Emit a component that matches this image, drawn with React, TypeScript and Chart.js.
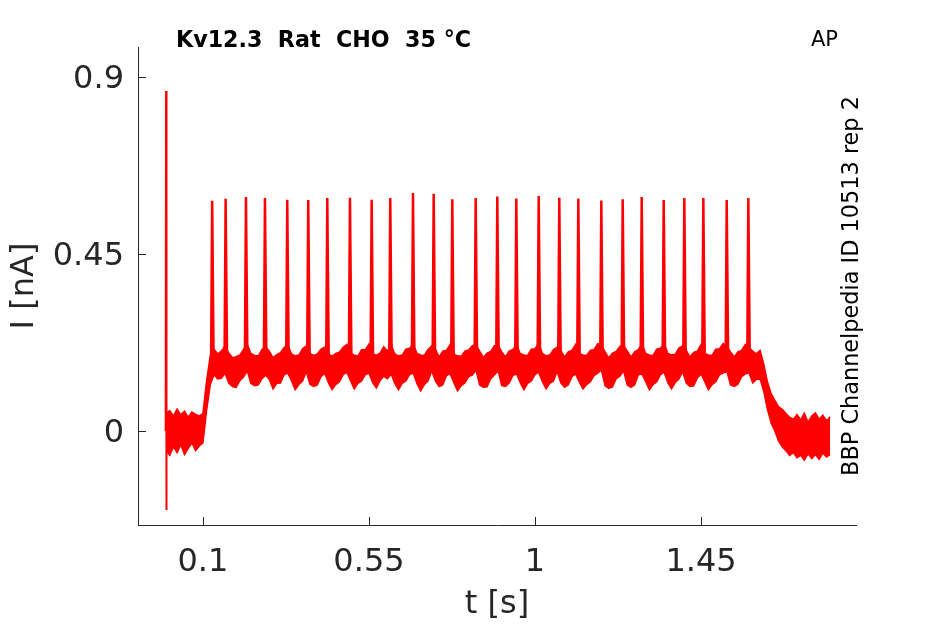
import { useEffect, useRef } from "react";
import { Chart, registerables } from "chart.js";

Chart.register(...registerables);

// ---- text ----
const TITLE = "Kv12.3  Rat  CHO  35 °C";
const CORNER_LABEL = "AP";
const SIDE_LABEL = "BBP Channelpedia ID 10513 rep 2";
const X_TITLE = "t [s]";
const Y_TITLE = "I [nA]";

// ---- axes ----
const X_TICKS = [0.1, 0.55, 1, 1.45];
const Y_TICKS = [0, 0.45, 0.9];
const X_RANGE = [-0.076, 1.87];
const Y_RANGE = [-0.239, 0.976];

// ---- trace: envelope of the overlaid sweeps, sampled every 10 ms from t = 0 ----
const SAMPLE_DT = 0.01;
const BAND_UPPER = [
  0.045, 0.052, 0.038, 0.056, 0.041, 0.050, 0.035, 0.048, 0.042, 0.038,
  0.045, 0.128, 0.192, 0.208, 0.196, 0.203, 0.216, 0.198, 0.186, 0.189,
  0.193, 0.207, 0.221, 0.197, 0.192, 0.191, 0.207, 0.214, 0.203, 0.186,
  0.194, 0.199, 0.212, 0.219, 0.196, 0.191, 0.193, 0.209, 0.216, 0.197,
  0.192, 0.196, 0.208, 0.213, 0.195, 0.190, 0.197, 0.200, 0.213, 0.220,
  0.198, 0.193, 0.190, 0.207, 0.206, 0.221, 0.195, 0.193, 0.198, 0.214,
  0.203, 0.219, 0.196, 0.191, 0.193, 0.208, 0.210, 0.222, 0.197, 0.193,
  0.192, 0.207, 0.216, 0.208, 0.188, 0.203, 0.205, 0.220, 0.195, 0.191,
  0.190, 0.203, 0.206, 0.217, 0.219, 0.203, 0.187, 0.198, 0.202, 0.217,
  0.218, 0.201, 0.188, 0.203, 0.207, 0.220, 0.197, 0.193, 0.192, 0.208,
  0.209, 0.223, 0.197, 0.191, 0.193, 0.207, 0.213, 0.205, 0.188, 0.201,
  0.205, 0.220, 0.197, 0.193, 0.192, 0.205, 0.207, 0.222, 0.219, 0.201,
  0.186, 0.198, 0.202, 0.215, 0.218, 0.203, 0.188, 0.201, 0.207, 0.221,
  0.197, 0.193, 0.192, 0.208, 0.210, 0.223, 0.197, 0.193, 0.195, 0.211,
  0.216, 0.205, 0.188, 0.200, 0.203, 0.220, 0.197, 0.193, 0.192, 0.208,
  0.209, 0.222, 0.215, 0.201, 0.188, 0.201, 0.205, 0.220, 0.212, 0.203,
  0.196, 0.205, 0.170, 0.125, 0.095, 0.078, 0.062, 0.055, 0.045, 0.035,
  0.030, 0.042, 0.028, 0.045, 0.022, 0.038, 0.046, 0.030, 0.040, 0.026, 0.036,
];
const BAND_LOWER = [
  -0.050, -0.062, -0.040, -0.055, -0.035, -0.060, -0.045, -0.030, -0.050, -0.038,
  -0.030, 0.052, 0.118, 0.143, 0.132, 0.134, 0.147, 0.122, 0.113, 0.111,
  0.128, 0.137, 0.153, 0.121, 0.115, 0.117, 0.133, 0.142, 0.131, 0.107,
  0.121, 0.122, 0.143, 0.147, 0.128, 0.105, 0.118, 0.127, 0.151, 0.119,
  0.113, 0.117, 0.138, 0.147, 0.123, 0.105, 0.118, 0.125, 0.143, 0.149,
  0.128, 0.107, 0.121, 0.127, 0.143, 0.147, 0.123, 0.109, 0.128, 0.139,
  0.133, 0.145, 0.121, 0.105, 0.121, 0.127, 0.143, 0.147, 0.121, 0.102,
  0.118, 0.127, 0.153, 0.127, 0.113, 0.117, 0.141, 0.145, 0.123, 0.102,
  0.115, 0.122, 0.138, 0.142, 0.155, 0.117, 0.111, 0.112, 0.133, 0.142,
  0.153, 0.115, 0.113, 0.122, 0.141, 0.145, 0.123, 0.105, 0.121, 0.127,
  0.143, 0.149, 0.125, 0.107, 0.121, 0.127, 0.151, 0.122, 0.111, 0.117,
  0.138, 0.145, 0.125, 0.107, 0.118, 0.125, 0.141, 0.147, 0.155, 0.115,
  0.108, 0.112, 0.133, 0.139, 0.153, 0.117, 0.111, 0.117, 0.143, 0.145,
  0.125, 0.105, 0.118, 0.125, 0.143, 0.149, 0.123, 0.107, 0.123, 0.132,
  0.151, 0.122, 0.113, 0.115, 0.135, 0.145, 0.125, 0.105, 0.118, 0.125,
  0.143, 0.147, 0.151, 0.117, 0.113, 0.119, 0.138, 0.145, 0.148, 0.122,
  0.131, 0.132, 0.100, 0.055, 0.020, 0.000, -0.025, -0.040, -0.050, -0.062,
  -0.055, -0.068, -0.062, -0.074, -0.058, -0.070, -0.060, -0.072, -0.056, -0.066, -0.060,
];

// ---- action potentials ----
const SPIKE_TIMES = [
  0.125, 0.1615, 0.2166, 0.2681, 0.3285, 0.3854, 0.437, 0.4985, 0.5573,
  0.6077, 0.6693, 0.7254, 0.7758, 0.8392, 0.8978, 0.9493, 1.01, 1.0658,
  1.1174, 1.1797, 1.2377, 1.2892, 1.3488, 1.4047, 1.4562, 1.5196, 1.5782,
];
const SPIKE_PEAKS = [
  0.585, 0.59, 0.595, 0.592, 0.588, 0.587, 0.592, 0.593, 0.588,
  0.592, 0.605, 0.603, 0.589, 0.592, 0.596, 0.591, 0.597, 0.593,
  0.591, 0.586, 0.589, 0.595, 0.587, 0.592, 0.592, 0.587, 0.592,
];
const SPIKE_BASE = 0.17;

// ---- stimulus onset artefact ----
const ARTIFACT_TIME = 0;
const ARTIFACT_MAX = 0.864;
const ARTIFACT_MIN = -0.201;

const RED = "#ff0000";
const AXIS_COLOR = "#262626";
const FONT = '"DejaVu Sans", "Liberation Sans", sans-serif';

const decorPlugin = {
  id: "decor",
  afterDraw(chart: any) {
    const { ctx, chartArea: a } = chart;
    const xs = chart.scales.x;
    const ys = chart.scales.y;
    ctx.save();
    // inward tick marks
    ctx.strokeStyle = AXIS_COLOR;
    ctx.lineWidth = 1;
    ctx.beginPath();
    for (const v of Y_TICKS) {
      const py = Math.round(ys.getPixelForValue(v)) + 0.5;
      ctx.moveTo(a.left, py);
      ctx.lineTo(a.left + 8, py);
    }
    for (const v of X_TICKS) {
      const px = Math.round(xs.getPixelForValue(v)) + 0.5;
      ctx.moveTo(px, a.bottom);
      ctx.lineTo(px, a.bottom - 8);
    }
    ctx.stroke();

    ctx.fillStyle = "#000";
    ctx.textBaseline = "alphabetic";
    ctx.textAlign = "left";
    ctx.font = `bold 22.2px ${FONT}`;
    ctx.fillText(TITLE, 176, 47);

    ctx.font = `21px ${FONT}`;
    ctx.fillText(CORNER_LABEL, 811, 46);

    // axis titles
    ctx.fillStyle = AXIS_COLOR;
    ctx.font = `32px ${FONT}`;
    ctx.textAlign = "center";
    ctx.fillText(X_TITLE, (a.left + a.right) / 2, 613);

    ctx.save();
    ctx.translate(33, (a.top + a.bottom) / 2);
    ctx.rotate(-Math.PI / 2);
    ctx.fillText(Y_TITLE, 0, 0);
    ctx.restore();

    ctx.save();
    ctx.fillStyle = "#000";
    ctx.font = `22.4px ${FONT}`;
    ctx.translate(858, (a.top + a.bottom) / 2);
    ctx.rotate(-Math.PI / 2);
    ctx.fillText(SIDE_LABEL, 0, 0);
    ctx.restore();

    ctx.restore();
  },
};

export default function App() {
  const canvasRef = useRef<HTMLCanvasElement | null>(null);

  useEffect(() => {
    const canvas = canvasRef.current;
    if (!canvas) return;

    const lower = BAND_LOWER.map((v, i) => ({ x: i * SAMPLE_DT, y: v }));
    const upper = BAND_UPPER.map((v, i) => ({ x: i * SAMPLE_DT, y: v }));
    const spikes: { x: number; y: number | null }[] = [];
    SPIKE_TIMES.forEach((t, i) => {
      spikes.push({ x: t - 0.003, y: SPIKE_BASE });
      spikes.push({ x: t, y: SPIKE_PEAKS[i] });
      spikes.push({ x: t + 0.004, y: SPIKE_BASE });
      spikes.push({ x: t + 0.004, y: null });
    });
    const artifact = [
      { x: ARTIFACT_TIME - 0.001, y: 0 },
      { x: ARTIFACT_TIME, y: ARTIFACT_MAX },
      { x: ARTIFACT_TIME + 0.0005, y: ARTIFACT_MIN },
      { x: ARTIFACT_TIME + 0.002, y: 0 },
    ];

    const chart = new Chart(canvas, {
      type: "line",
      data: {
        datasets: [
          {
            label: "lower",
            data: lower,
            borderColor: RED,
            borderWidth: 1.5,
            pointRadius: 0,
            fill: false,
          },
          {
            label: "upper",
            data: upper,
            borderColor: RED,
            borderWidth: 1.5,
            pointRadius: 0,
            backgroundColor: RED,
            fill: "-1",
          },
          {
            label: "spikes",
            data: spikes,
            borderColor: RED,
            borderWidth: 2.5,
            pointRadius: 0,
            spanGaps: false,
            fill: false,
          },
          {
            label: "artifact",
            data: artifact,
            borderColor: RED,
            borderWidth: 2,
            pointRadius: 0,
            fill: false,
          },
        ],
      },
      options: {
        responsive: false,
        animation: false,
        layout: { padding: { left: 0, top: 47, right: 89, bottom: 0 } },
        plugins: {
          legend: { display: false },
          tooltip: { enabled: false },
          title: { display: false },
        },
        elements: { line: { tension: 0 } },
        scales: {
          x: {
            type: "linear",
            min: X_RANGE[0],
            max: X_RANGE[1],
            grid: { display: false, drawTicks: false },
            border: { display: true, color: AXIS_COLOR, width: 1 },
            ticks: {
              autoSkip: false,
              maxRotation: 0,
              minRotation: 0,
              padding: 18,
              color: AXIS_COLOR,
              font: { family: FONT, size: 32 },
              callback: (v: any) => String(v),
            },
            afterBuildTicks: (s: any) => {
              s.ticks = X_TICKS.map((v) => ({ value: v }));
            },
            afterFit: (s: any) => {
              s.height = 99;
            },
          },
          y: {
            type: "linear",
            min: Y_RANGE[0],
            max: Y_RANGE[1],
            grid: { display: false, drawTicks: false },
            border: { display: true, color: AXIS_COLOR, width: 1 },
            ticks: {
              autoSkip: false,
              padding: 14,
              labelOffset: 3,
              color: AXIS_COLOR,
              font: { family: FONT, size: 32 },
              callback: (v: any) => String(v),
            },
            afterBuildTicks: (s: any) => {
              s.ticks = Y_TICKS.map((v) => ({ value: v }));
            },
            afterFit: (s: any) => {
              s.width = 138;
            },
          },
        },
      },
      plugins: [decorPlugin],
    });

    return () => chart.destroy();
  }, []);

  return (
    <div style={{ position: "fixed", left: 0, top: 0, width: 945, height: 624, background: "#fff" }}>
      <canvas ref={canvasRef} width={945} height={624} style={{ display: "block" }} />
    </div>
  );
}
